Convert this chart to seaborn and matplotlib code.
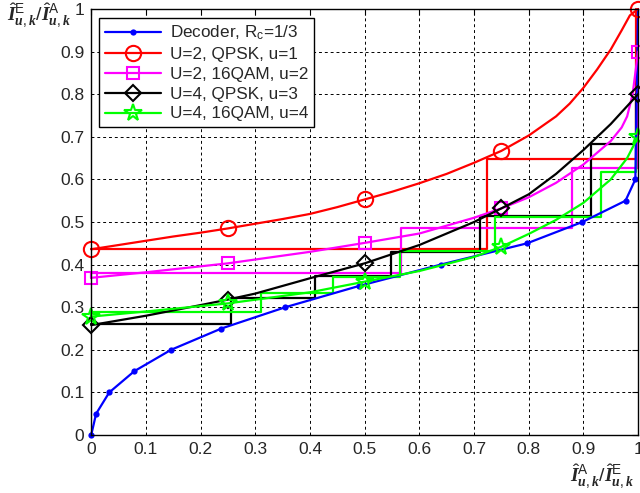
import seaborn as sns
import matplotlib.pyplot as plt

# EXIT chart values
dec_x = [0, 0.009, 0.033, 0.079, 0.146, 0.238, 0.355, 0.49, 0.639, 0.797, 0.898, 0.977, 0.995, 1.0]
dec_y = [0, 0.05, 0.1, 0.15, 0.2, 0.25, 0.3, 0.35, 0.4, 0.45, 0.5, 0.55, 0.6, 1.0]

qpsk2_x = [0, 0.05, 0.1, 0.15, 0.2, 0.25, 0.3, 0.35, 0.4, 0.45, 0.5, 0.55, 0.6, 0.65, 0.7,
           0.75, 0.8, 0.85, 0.875, 0.9, 0.925, 0.95, 0.97, 0.985, 1.0]
qpsk2_y = [0.436, 0.446, 0.456, 0.466, 0.475, 0.485, 0.496, 0.507, 0.519, 0.535, 0.553,
           0.571, 0.591, 0.613, 0.639, 0.667, 0.703, 0.748, 0.778, 0.815, 0.858, 0.905,
           0.95, 0.985, 1.0]

qam2_x = [0, 0.1, 0.25, 0.4, 0.5, 0.6, 0.7, 0.75, 0.8, 0.85, 0.9, 0.95, 0.97, 0.98, 0.99, 1.0]
qam2_y = [0.369, 0.382, 0.403, 0.43, 0.451, 0.473, 0.51, 0.532, 0.558, 0.592, 0.635, 0.69,
          0.722, 0.748, 0.8, 0.9]

qpsk4_x = [0, 0.1, 0.2, 0.25, 0.3, 0.4, 0.5, 0.6, 0.7, 0.75, 0.8, 0.85, 0.9, 0.95, 1.0]
qpsk4_y = [0.258, 0.28, 0.305, 0.318, 0.332, 0.368, 0.403, 0.446, 0.5, 0.532, 0.565, 0.613,
           0.669, 0.73, 0.8]

qam4_x = [0, 0.1, 0.25, 0.4, 0.5, 0.6, 0.7, 0.75, 0.8, 0.85, 0.9, 0.95, 0.98, 1.0]
qam4_y = [0.278, 0.29, 0.309, 0.335, 0.36, 0.385, 0.418, 0.442, 0.472, 0.505, 0.545, 0.6,
          0.65, 0.7]

# decoding trajectories
traj_red_x = [0, 0.724, 0.724, 0.996, 0.996]
traj_red_y = [0.436, 0.436, 0.648, 0.648, 1.0]
traj_mag_x = [0, 0, 0.567, 0.567, 0.879, 0.879, 0.999, 0.999]
traj_mag_y = [0.369, 0.38, 0.38, 0.487, 0.487, 0.626, 0.626, 0.9]
traj_blk_x = [0, 0.256, 0.256, 0.41, 0.41, 0.549, 0.549, 0.711, 0.711, 0.913, 0.913, 0.996, 0.996]
traj_blk_y = [0.26, 0.26, 0.321, 0.321, 0.373, 0.373, 0.43, 0.43, 0.514, 0.514, 0.682, 0.682, 0.8]
traj_grn_x = [0, 0, 0.311, 0.311, 0.442, 0.442, 0.564, 0.564, 0.739, 0.739, 0.932, 0.932, 0.996, 0.996]
traj_grn_y = [0.278, 0.289, 0.289, 0.333, 0.333, 0.372, 0.372, 0.432, 0.432, 0.512, 0.512, 0.618, 0.618, 0.705]

ticks = [i / 10 for i in range(11)]
tick_labels = ["0", "0.1", "0.2", "0.3", "0.4", "0.5", "0.6", "0.7", "0.8", "0.9", "1"]

sns.set_style("white")
plt.rcParams['font.family'] = ['Liberation Sans', 'DejaVu Sans']
plt.rcParams['mathtext.fontset'] = 'custom'
plt.rcParams['mathtext.rm'] = 'Liberation Sans'
plt.rcParams['mathtext.it'] = 'Liberation Serif:italic:bold'
plt.rcParams['mathtext.bf'] = 'Liberation Serif:bold'

fig = plt.figure(figsize=(6.4, 4.93), dpi=100)
ax = fig.add_axes([0.1425, 0.1176, 0.8545, 0.8641])

lw = 1.6
common = dict(sort=False, estimator=None, ax=ax, clip_on=False, linewidth=lw)

sns.lineplot(x=traj_red_x, y=traj_red_y, color="#ff0000", **common)
sns.lineplot(x=traj_mag_x, y=traj_mag_y, color="#ff00ff", **common)
sns.lineplot(x=traj_blk_x, y=traj_blk_y, color="black", **common)
sns.lineplot(x=traj_grn_x, y=traj_grn_y, color="#00ff00", **common)

sns.lineplot(x=dec_x, y=dec_y, color="#0000ff", marker="o", markersize=4.5,
             markeredgewidth=0, markevery=list(range(13)),
             label=r"Decoder, R$_{\mathrm{c}}$=1/3", **common)
sns.lineplot(x=qpsk2_x, y=qpsk2_y, color="#ff0000", marker="o", markersize=11,
             markerfacecolor="none", markeredgewidth=1.5, markeredgecolor="#ff0000",
             markevery=[0, 5, 10, 15, 24], label="U=2, QPSK, u=1", **common)
sns.lineplot(x=qam2_x, y=qam2_y, color="#ff00ff", marker="s", markersize=9,
             markerfacecolor="none", markeredgewidth=1.5, markeredgecolor="#ff00ff",
             markevery=[0, 2, 4, 7, 15], label="U=2, 16QAM, u=2", **common)
sns.lineplot(x=qpsk4_x, y=qpsk4_y, color="black", marker="D", markersize=8,
             markerfacecolor="none", markeredgewidth=1.5, markeredgecolor="black",
             markevery=[0, 3, 6, 9, 14], label="U=4, QPSK, u=3", **common)
sns.lineplot(x=qam4_x, y=qam4_y, color="#00ff00", marker="*", markersize=13,
             markerfacecolor="none", markeredgewidth=1.5, markeredgecolor="#00ff00",
             markevery=[0, 2, 4, 7, 13], label="U=4, 16QAM, u=4", **common)

ax.set_xlim(0, 1)
ax.set_ylim(0, 1)
ax.set_xticks(ticks)
ax.set_xticklabels(tick_labels)
ax.set_yticks(ticks)
ax.set_yticklabels(tick_labels)
ax.tick_params(direction="in", length=4, labelsize=12.5, top=True, right=True,
               color="black", pad=5)
ax.grid(True, linestyle=(0, (3, 3)), color="black", linewidth=0.7)
for s in ax.spines.values():
    s.set_color("black")
    s.set_linewidth(1.0)
ax.set_xlabel("")
ax.set_ylabel("")

leg = ax.legend(loc="upper left", bbox_to_anchor=(0.014, 0.979), borderaxespad=0,
                fancybox=False, edgecolor="black", framealpha=1, fontsize=12.3,
                handlelength=3.3, labelspacing=0.28, borderpad=0.35, handletextpad=0.5)
leg.get_frame().set_linewidth(1.0)

fig.text(0.011, 0.967, r"$\hat{I}^{\mathrm{E}}_{u,k}/\hat{I}^{\mathrm{A}}_{u,k}$",
         ha="left", va="center", fontsize=14)
fig.text(0.99, 0.032, r"$\hat{I}^{\mathrm{A}}_{u,k}/\hat{I}^{\mathrm{E}}_{u,k}$",
         ha="right", va="center", fontsize=14)

fig.savefig("out.png", dpi=100)
